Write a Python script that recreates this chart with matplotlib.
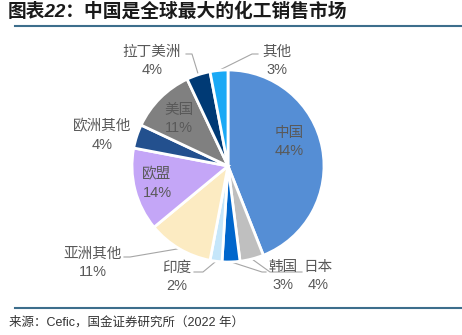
import numpy as np
import matplotlib.pyplot as plt

plt.rcParams['font.family'] = ['Liberation Sans', 'Noto Sans CJK SC', 'DejaVu Sans']

# chemical sales market share by region (%)
regions = ['中国', '日本', '韩国', '印度', '亚洲其他', '欧盟', '欧洲其他', '美国', '拉丁美洲', '其他']
shares = [44, 4, 3, 2, 11, 14, 4, 11, 4, 3]
colors = ['#558ED5', '#BFBFBF', '#0066CC', '#C5E6FA', '#FCEBC2',
          '#C4A6F7', '#23508E', '#808080', '#003A75', '#1AA9F5']

W, H = 462, 335

def px(x, y):
    # pixel position (origin top-left) -> data coords
    return x, H - y

# label centres, in pixels
label_pos = {
    '中国': (289, 142), '日本': (318, 276), '韩国': (283, 276), '印度': (177, 277),
    '亚洲其他': (93, 263), '欧盟': (157, 184), '欧洲其他': (102, 136),
    '美国': (179, 119), '拉丁美洲': (152, 61), '其他': (277, 61),
}
# leader line bends for the outside labels
leaders = {
    '拉丁美洲': [(192, 54), (186, 54)],
    '其他': [(252, 54), (258, 54)],
    '亚洲其他': [(130, 257), (124, 257)],
    '印度': [(203, 272), (194, 272)],
    '韩国': [(262, 272), (266, 272)],
    '日本': [(270, 272), (302, 272)],
}

fig = plt.figure(figsize=(W / 100, H / 100), dpi=100)
ax = fig.add_axes([0, 0, 1, 1])

cx, cy = px(228, 166)
r = 96
wedges, _ = ax.pie(shares, colors=colors, startangle=90, counterclock=False,
                   center=(cx, cy), radius=r,
                   wedgeprops=dict(edgecolor='white', linewidth=2))
ax.set_xlim(0, W)
ax.set_ylim(0, H)
ax.set_aspect('equal')
ax.axis('off')

for w, name, val in zip(wedges, regions, shares):
    tx, ty = px(*label_pos[name])
    ax.text(tx, ty, f'{name}\n{val}%', ha='center', va='center', fontsize=10.5,
            color='#595959', linespacing=1.4)
    if name in leaders:
        mid = np.deg2rad((w.theta1 + w.theta2) / 2)
        pts = [(cx + r * np.cos(mid), cy + r * np.sin(mid))] + [px(*p) for p in leaders[name]]
        xs, ys = zip(*pts)
        ax.plot(xs, ys, color='#A6A6A6', lw=0.8, zorder=0)

# title, rules and source
fig.text(8 / W, 1 - 11 / H, '图表22：中国是全球最大的化工销售市场', fontsize=13.5,
         fontweight='bold', style='italic', color='#1a1a1a', va='center')
ax.plot(*zip(px(15, 25.5), px(462, 25.5)), color='#3D6E8C', lw=1.5)
ax.plot(*zip(px(15, 307.5), px(462, 307.5)), color='#3D6E8C', lw=1.5)
fig.text(9 / W, 1 - 322 / H, '来源：Cefic，国金证券研究所（2022 年）', fontsize=9,
         color='#333333', va='center')

fig.savefig('out.png', dpi=100)
